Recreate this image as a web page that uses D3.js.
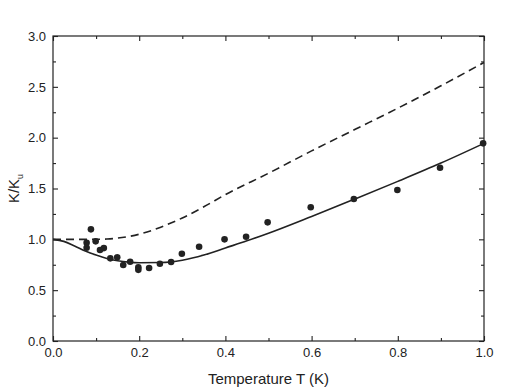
<!DOCTYPE html>
<html>
<head>
<meta charset="utf-8">
<script src="https://cdn.jsdelivr.net/npm/d3@7"></script>
<style>
  html, body { margin: 0; padding: 0; background: #fff; }
  svg { display: block; font-family: "Liberation Sans", Arial, sans-serif; }
</style>
</head>
<body>
<div id="chart"></div>
<script>
// measured points (T in K, K/Ku)
const dataT = [0.078, 0.078, 0.088, 0.099, 0.109, 0.118, 0.133, 0.149, 0.163, 0.179, 0.198, 0.198,
               0.223, 0.248, 0.274, 0.299, 0.339, 0.398, 0.448, 0.498, 0.598, 0.698, 0.799, 0.898, 0.998];
const dataK = [0.967, 0.917, 1.098, 0.98, 0.895, 0.914, 0.813, 0.823, 0.747, 0.78, 0.725, 0.70,
               0.718, 0.76, 0.777, 0.858, 0.927, 1.0, 1.026, 1.167, 1.315, 1.396, 1.485, 1.704, 1.944];

// solid theory curve
const solidT = [0, 0.025, 0.05, 0.075, 0.1, 0.125, 0.15, 0.175, 0.2, 0.25, 0.3, 0.35, 0.4, 0.45, 0.5, 0.6, 0.7, 0.8, 0.9, 1.0];
const solidK = [1.0, 0.98, 0.935, 0.885, 0.845, 0.812, 0.79, 0.776, 0.77, 0.772, 0.795, 0.845, 0.915, 0.985, 1.06, 1.225, 1.396, 1.57, 1.75, 1.944];

// dashed theory curve
const dashT = [0, 0.05, 0.1, 0.125, 0.15, 0.2, 0.25, 0.3, 0.35, 0.4, 0.5, 0.6, 0.7, 0.8, 0.9, 1.0];
const dashK = [1.0, 1.0, 1.0, 1.003, 1.012, 1.05, 1.12, 1.21, 1.32, 1.44, 1.65, 1.87, 2.08, 2.29, 2.51, 2.74];

const xTicks = [0, 0.2, 0.4, 0.6, 0.8, 1.0];
const xMinor = [0.1, 0.3, 0.5, 0.7, 0.9];
const yTicks = [0, 0.5, 1.0, 1.5, 2.0, 2.5, 3.0];
const yMinor = [0.25, 0.75, 1.25, 1.75, 2.25, 2.75];

const width = 520, height = 392;
const margin = { left: 53, right: 36, top: 36, bottom: 51 };
const ink = "#222";

const svg = d3.select("#chart").append("svg")
    .attr("width", width)
    .attr("height", height);

const x = d3.scaleLinear().domain([0, 1]).range([margin.left, width - margin.right]);
const y = d3.scaleLinear().domain([0, 3]).range([height - margin.bottom, margin.top]);

// frame
svg.append("rect")
    .attr("x", x(0)).attr("y", y(3))
    .attr("width", x(1) - x(0)).attr("height", y(0) - y(3))
    .attr("fill", "none").attr("stroke", ink).attr("stroke-width", 1.2);

const fmt = d3.format(".1f");

function tickAxis(axis, scale, major, minor, transform) {
    const g = svg.append("g").attr("transform", transform)
        .call(axis(scale).tickValues(major).tickSize(-5).tickFormat(fmt).tickPadding(7));
    g.select(".domain").remove();
    g.selectAll(".tick line").attr("stroke", ink).attr("stroke-width", 1.1);
    g.selectAll("text").attr("fill", ink).attr("font-size", 13)
        .attr("font-family", "\"Liberation Sans\", Arial, sans-serif");
    const m = svg.append("g").attr("transform", transform)
        .call(axis(scale).tickValues(minor).tickSize(-3).tickFormat(""));
    m.select(".domain").remove();
    m.selectAll(".tick line").attr("stroke", ink).attr("stroke-width", 1.1);
    return g;
}

tickAxis(d3.axisBottom, x, xTicks, xMinor, `translate(0,${y(0)})`);
tickAxis(d3.axisLeft, y, yTicks, yMinor, `translate(${x(0)},0)`);
const topAx = tickAxis(d3.axisTop, x, xTicks, xMinor, `translate(0,${y(3)})`);
topAx.selectAll("text").remove();
const rightAx = tickAxis(d3.axisRight, y, yTicks, yMinor, `translate(${x(1)},0)`);
rightAx.selectAll("text").remove();

// curves
const line = d3.line().curve(d3.curveMonotoneX).x(d => x(d[0])).y(d => y(d[1]));

svg.append("path")
    .datum(dashT.map((t, i) => [t, dashK[i]]))
    .attr("d", line)
    .attr("fill", "none").attr("stroke", ink).attr("stroke-width", 1.6)
    .attr("stroke-dasharray", "8,5");

svg.append("path")
    .datum(solidT.map((t, i) => [t, solidK[i]]))
    .attr("d", line)
    .attr("fill", "none").attr("stroke", ink).attr("stroke-width", 1.6);

// data points
svg.append("g").selectAll("circle")
    .data(dataT.map((t, i) => [t, dataK[i]]))
    .join("circle")
    .attr("cx", d => x(d[0]))
    .attr("cy", d => y(d[1]))
    .attr("r", 3.3)
    .attr("fill", ink);

// axis titles
svg.append("text")
    .attr("x", (x(0) + x(1)) / 2)
    .attr("y", height - 8)
    .attr("text-anchor", "middle")
    .attr("font-size", 15)
    .attr("fill", ink)
    .text("Temperature T (K)");

const yl = svg.append("text")
    .attr("transform", `translate(19,${(y(0) + y(3)) / 2}) rotate(-90)`)
    .attr("text-anchor", "middle")
    .attr("font-size", 15)
    .attr("fill", ink);
yl.append("tspan").text("K/K");
yl.append("tspan").attr("font-size", 9).attr("dy", 4).text("u");
</script>
</body>
</html>
